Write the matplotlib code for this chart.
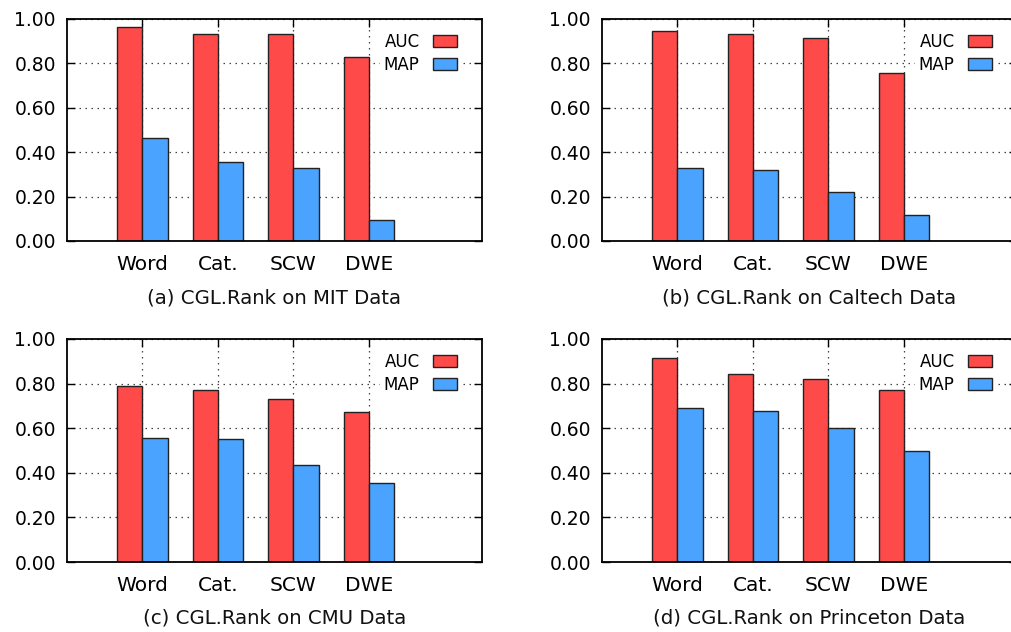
import matplotlib
matplotlib.use("Agg")
import matplotlib.pyplot as plt
from matplotlib.patches import Patch
import numpy as np

categories = ["Word", "Cat.", "SCW", "DWE"]
yticks = [0.0, 0.2, 0.4, 0.6, 0.8, 1.0]
ytick_labels = ["0.00", "0.20", "0.40", "0.60", "0.80", "1.00"]

auc_mit = [0.965, 0.934, 0.932, 0.830]
map_mit = [0.462, 0.358, 0.329, 0.093]
auc_caltech = [0.947, 0.934, 0.916, 0.759]
map_caltech = [0.331, 0.320, 0.221, 0.117]
auc_cmu = [0.790, 0.772, 0.732, 0.674]
map_cmu = [0.555, 0.551, 0.434, 0.353]
auc_princeton = [0.915, 0.844, 0.819, 0.772]
map_princeton = [0.692, 0.678, 0.600, 0.496]

captions = ["(a) CGL.Rank on MIT Data", "(b) CGL.Rank on Caltech Data",
            "(c) CGL.Rank on CMU Data", "(d) CGL.Rank on Princeton Data"]
panels = [(auc_mit, map_mit), (auc_caltech, map_caltech),
          (auc_cmu, map_cmu), (auc_princeton, map_princeton)]

RED = "#ff4a4a"
BLUE = "#4aa3ff"
W, H = 1012, 632
fig = plt.figure(figsize=(W / 100, H / 100), dpi=100)

# pixel boxes (left, top, right, bottom) and caption y
boxes = [(67, 19, 482, 241, 298), (602, 19, 1017, 241, 298),
         (67, 339, 482, 562, 618), (602, 339, 1017, 562, 618)]

bw = 1 / 3
for (auc, mp), cap, (l, t, r, b, cy) in zip(panels, captions, boxes):
    ax = fig.add_axes([l / W, 1 - b / H, (r - l) / W, (b - t) / H])
    x = np.arange(1, len(categories) + 1)
    ax.bar(x - bw, auc, width=bw, align="edge", color=RED, edgecolor="#222222",
           linewidth=1.0, zorder=3)
    ax.bar(x, mp, width=bw, align="edge", color=BLUE, edgecolor="#222222",
           linewidth=1.0, zorder=3)
    ax.set_xlim(0, 5.5)
    ax.set_ylim(0, 1.0)
    ax.set_xticks(x)
    ax.set_xticklabels(categories, fontsize=14.5)
    ax.set_yticks(yticks)
    ax.set_yticklabels(ytick_labels, fontsize=13.5)
    ax.tick_params(axis="both", direction="in", length=6, width=1,
                   top=True, right=True, colors="black")
    ax.tick_params(axis="x", pad=10)
    ax.tick_params(axis="y", pad=8)
    ax.grid(True, linestyle=(0, (1.2, 3.6)), color="#444444", linewidth=0.9, zorder=0)
    ax.set_axisbelow(True)
    for s in ax.spines.values():
        s.set_linewidth(1.3)
        s.set_zorder(5)
    handles = [Patch(facecolor=RED, edgecolor="#222222", label="AUC"),
               Patch(facecolor=BLUE, edgecolor="#222222", label="MAP")]
    leg = ax.legend(handles=handles, loc="upper right", bbox_to_anchor=(0.97, 0.995),
                    markerfirst=False, fontsize=12, handlelength=1.45,
                    handleheight=0.72, labelspacing=0.33, handletextpad=0.8,
                    borderpad=0.25, frameon=True, fancybox=False)
    leg.get_frame().set_edgecolor("none")
    leg.get_frame().set_facecolor("white")
    leg.get_frame().set_alpha(1)
    leg.set_zorder(4)
    cx = (l + r) / 2
    fig.text(cx / W, 1 - cy / H, cap, ha="center", va="center", fontsize=14.2,
             color="#111111")

fig.savefig("out.png", dpi=100)
